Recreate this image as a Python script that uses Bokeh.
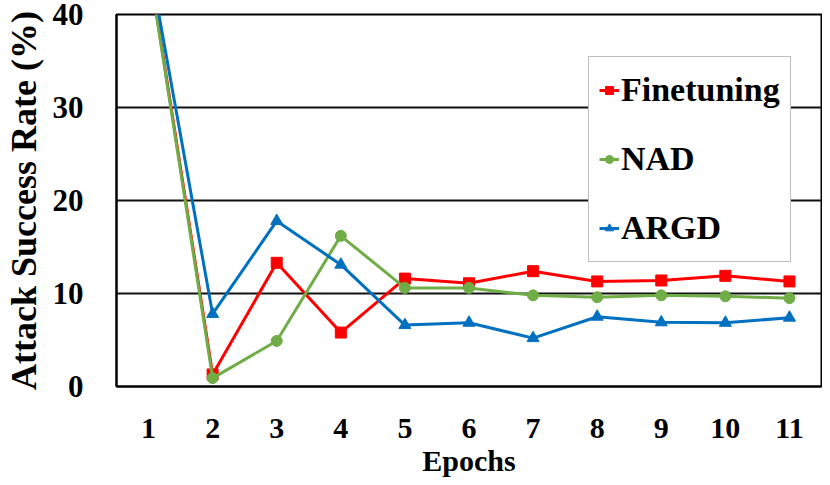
from bokeh.plotting import figure
from bokeh.models import Range1d, FixedTicker, Legend, LegendItem
from bokeh.embed import file_html
from bokeh.resources import INLINE

epochs = [1, 2, 3, 4, 5, 6, 7, 8, 9, 10, 11]
finetuning = [45.6, 1.3, 13.3, 5.8, 11.6, 11.1, 12.4, 11.3, 11.4, 11.9, 11.3]
nad = [45.4, 0.9, 4.9, 16.2, 10.6, 10.6, 9.8, 9.6, 9.8, 9.7, 9.5]
argd = [46.2, 7.8, 17.8, 13.1, 6.6, 6.85, 5.2, 7.5, 6.9, 6.85, 7.4]
y_ticks = [0, 10, 20, 30, 40]

FONT = "Liberation Serif"

p = figure(width=822, height=484, output_backend="svg", toolbar_location=None,
           x_range=Range1d(0.5, 11.5), y_range=Range1d(0, 40),
           min_border_left=115, min_border_right=1, min_border_top=14, min_border_bottom=98)

p.outline_line_color = "black"
p.outline_line_width = 2
p.background_fill_color = "white"
p.border_fill_color = "white"

p.xgrid.visible = False
p.ygrid.grid_line_color = "#111111"
p.ygrid.grid_line_width = 2
p.ygrid.ticker = FixedTicker(ticks=y_ticks)

p.yaxis.ticker = FixedTicker(ticks=y_ticks)
p.xaxis.ticker = FixedTicker(ticks=epochs)

for ax in (p.xaxis[0], p.yaxis[0]):
    ax.axis_line_color = "black"
    ax.axis_line_width = 2
    ax.major_tick_line_color = None
    ax.minor_tick_line_color = None
    ax.major_tick_out = 0
    ax.major_tick_in = 0
    ax.major_label_text_font = FONT
    ax.major_label_text_font_style = "bold"
    ax.major_label_text_color = "black"
    ax.axis_label_text_font = FONT
    ax.axis_label_text_font_style = "bold"
    ax.axis_label_text_color = "black"

p.yaxis.major_label_text_font_size = "31px"
p.yaxis.major_label_standoff = 33
p.yaxis.axis_label = "Attack Success Rate (%)"
p.yaxis.axis_label_text_font_size = "36px"
p.yaxis.axis_label_standoff = 6

p.xaxis.major_label_text_font_size = "30px"
p.xaxis.major_label_standoff = 32
p.xaxis.axis_label = "Epochs"
p.xaxis.axis_label_text_font_size = "30px"
p.xaxis.axis_label_standoff = 3

series = [
    ("Finetuning", finetuning, "#FF0000", "square", 11),
    ("NAD", nad, "#70AD47", "circle", 11),
    ("ARGD", argd, "#0070C0", "triangle", 12),
]

items = []
for name, ys, color, marker, size in series:
    ln = p.line(epochs, ys, line_color=color, line_width=3)
    sc = p.scatter(epochs, ys, marker=marker, size=size, fill_color=color, line_color=color)
    items.append(LegendItem(label=name, renderers=[ln, sc]))

legend = Legend(items=items, location=(472, 124))
legend.label_text_font = FONT
legend.label_text_font_style = "bold"
legend.label_text_font_size = "34px"
legend.label_text_color = "black"
legend.glyph_width = 20
legend.glyph_height = 46
legend.label_height = 46
legend.label_standoff = 2
legend.spacing = 23
legend.padding = 10
legend.margin = 0
legend.border_line_color = "#808080"
legend.border_line_width = 1
legend.background_fill_color = "white"
legend.background_fill_alpha = 1.0
p.add_layout(legend, "center")

open("out.html", "w").write(file_html(p, INLINE))
